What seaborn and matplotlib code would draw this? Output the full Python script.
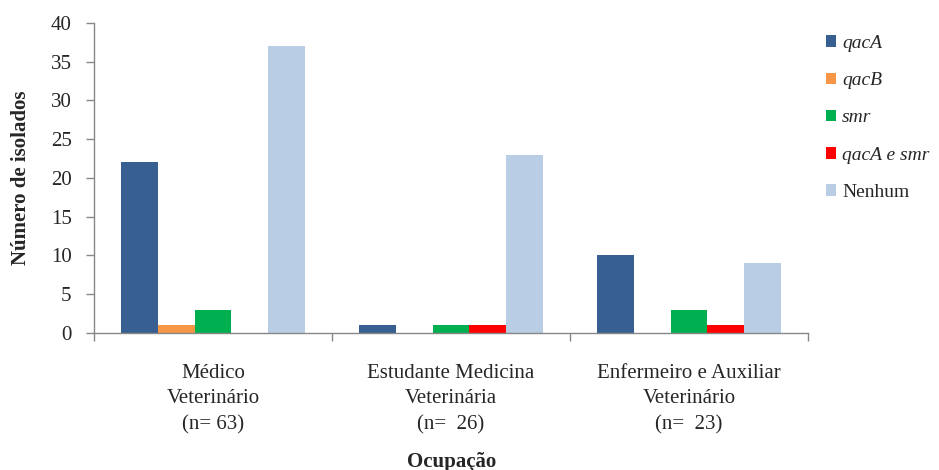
import matplotlib
matplotlib.use("Agg")
import matplotlib.pyplot as plt
import seaborn as sns
import pandas as pd

# Categories, gene groups and counts of isolates per group
ocupacoes = ["Médico\nVeterinário\n(n= 63)",
             "Estudante Medicina\nVeterinária\n(n=  26)",
             "Enfermeiro e Auxiliar\nVeterinário\n(n=  23)"]
genes = ["qacA", "qacB", "smr", "qacA e smr", "Nenhum"]
qacA = [22, 1, 10]
qacB = [1, 0, 0]
smr = [3, 1, 3]
qacA_smr = [0, 1, 1]
nenhum = [37, 23, 9]
cores = ["#375F91", "#F79646", "#00B050", "#FF0000", "#B9CDE5"]

series = [qacA, qacB, smr, qacA_smr, nenhum]
rows = []
for gene, vals in zip(genes, series):
    for occ, v in zip(ocupacoes, vals):
        rows.append({"Ocupação": occ, "Gene": gene, "Isolados": v})
df = pd.DataFrame(rows)

sns.set_theme(style="white")
plt.rcParams["font.family"] = ["Liberation Serif", "DejaVu Serif"]
plt.rcParams["font.size"] = 15

fig = plt.figure(figsize=(9.39, 4.70), dpi=100)
ax = fig.add_axes([0.100, 0.2915, 0.7605, 0.660])

sns.barplot(data=df, x="Ocupação", y="Isolados", hue="Gene",
            hue_order=genes, order=ocupacoes, palette=cores,
            width=0.77, gap=0, saturation=1, errorbar=None,
            linewidth=0, ax=ax)

ax.set_ylim(0, 40)
ax.set_xlim(-0.5, 2.5)
ax.set_yticks(range(0, 41, 5))
ax.tick_params(axis="y", labelsize=15, length=6, width=1, color="#878787",
               direction="out", left=True, pad=10)

# category labels centred under each group, ticks at group boundaries
ax.set_xticks([-0.5, 0.5, 1.5, 2.5])
ax.set_xticklabels([])
ax.tick_params(axis="x", length=6, width=1, color="#878787",
               direction="out", bottom=True)
for i, occ in enumerate(ocupacoes):
    ax.annotate(occ, xy=(i, 0), xycoords=("data", "axes fraction"),
                xytext=(0, -22), textcoords="offset points",
                ha="center", va="top", fontsize=15, linespacing=1.48)

for side in ["top", "right"]:
    ax.spines[side].set_visible(False)
for side in ["left", "bottom"]:
    ax.spines[side].set_color("#878787")
    ax.spines[side].set_linewidth(1)

ax.set_ylabel("Número de isolados", fontsize=15, fontweight="bold", labelpad=14)
ax.set_xlabel("")
fig.text(0.4805, 0.007, "Ocupação", ha="center", va="baseline",
         fontsize=15, fontweight="bold")

handles, labels = ax.get_legend_handles_labels()
leg = ax.legend(handles, labels, loc="upper left",
                bbox_to_anchor=(0.871, 0.942), bbox_transform=fig.transFigure,
                frameon=False, fontsize=14, handlelength=0.55,
                handleheight=0.55, handletextpad=0.3, labelspacing=1.04,
                borderaxespad=0)
for t in leg.get_texts():
    if t.get_text() != "Nenhum":
        t.set_fontstyle("italic")

fig.savefig("out.png", dpi=100)
